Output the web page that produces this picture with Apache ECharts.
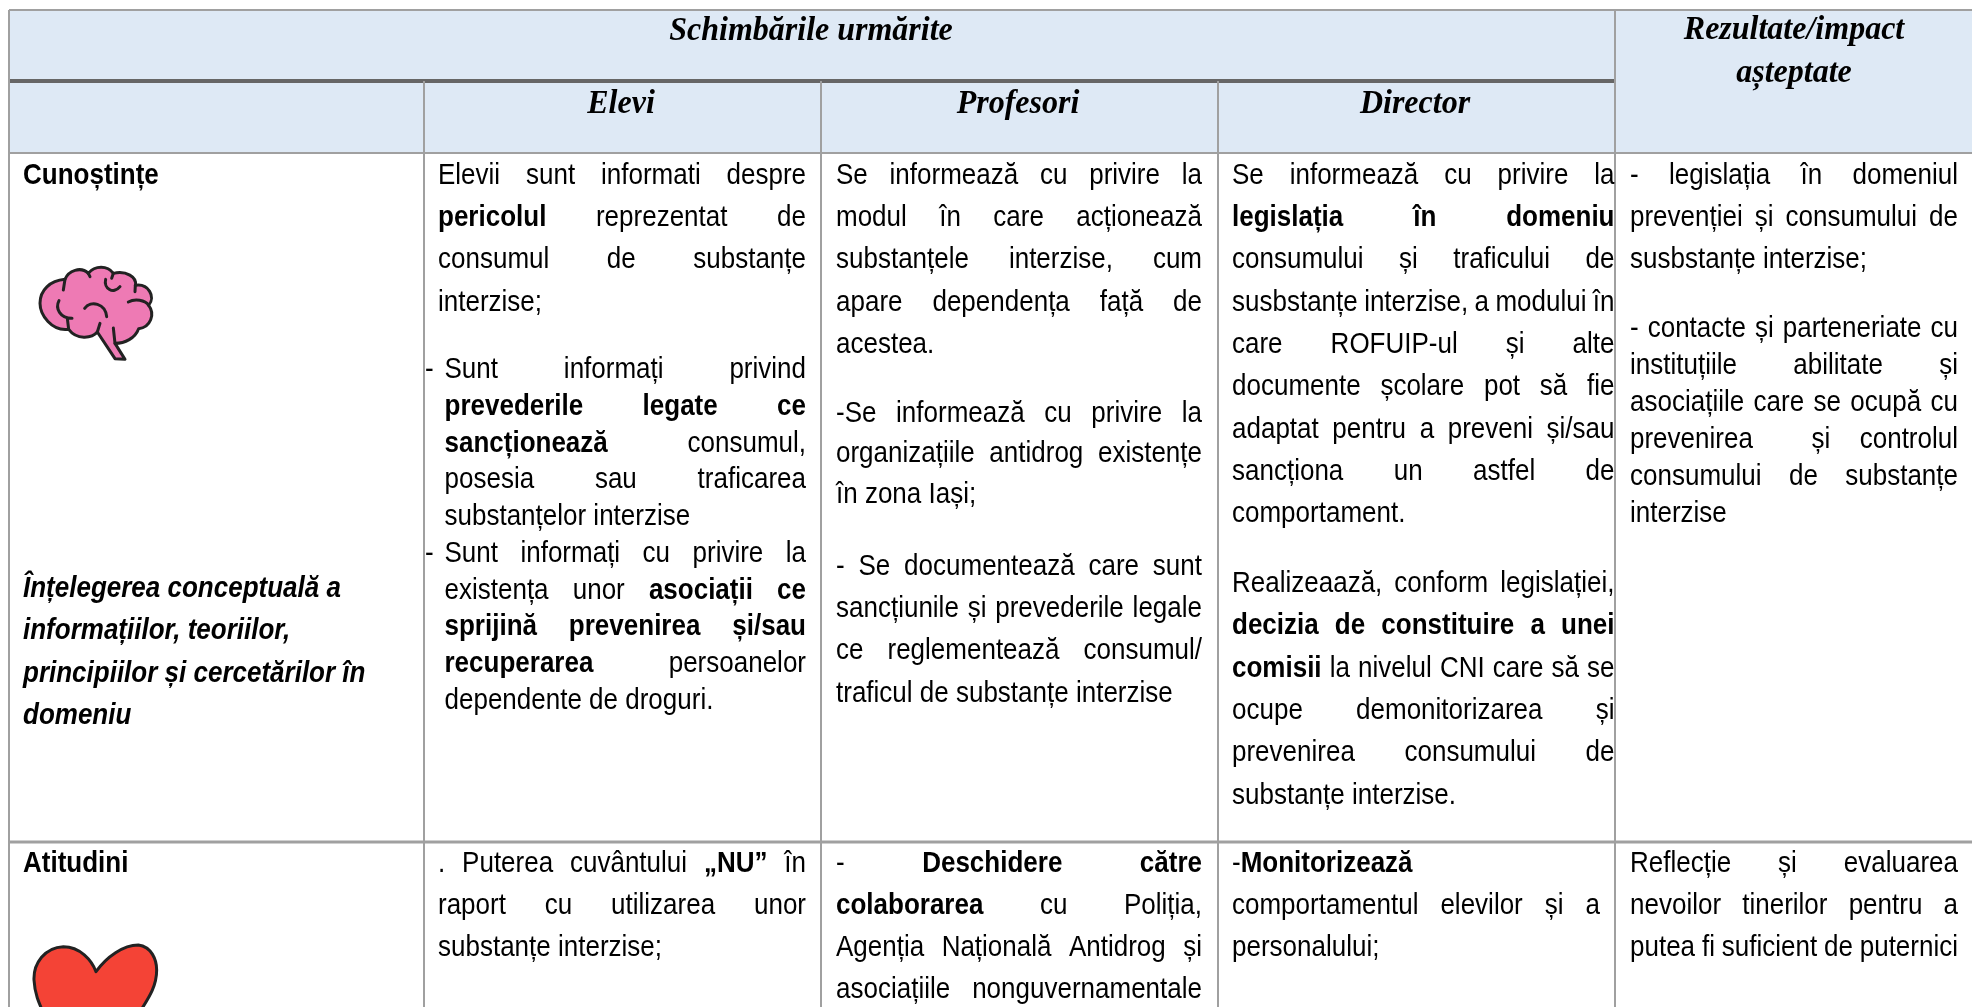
<!DOCTYPE html>
<html lang="ro">
<head>
<meta charset="utf-8">
<title>Schimbările urmărite</title>
<style>html,body{margin:0;padding:0;background:#fff;overflow:hidden}#c{width:1972px;height:1007px}</style>
<script src="https://cdn.jsdelivr.net/npm/echarts@6/dist/echarts.min.js"></script>
</head>
<body>
<div id="c"></div>
<script>
// ---- table text (a leading * marks a bold word, a leading < marks a line that is not justified) ----
const headTop = "Schimbările urmărite";
const headCols = ["Elevi", "Profesori", "Director"];
const headResult = ["Rezultate/impact", "așteptate"];

const rowName1 = "Cunoștințe";
const rowDesc1 = ["Înțelegerea conceptuală a", "informațiilor, teoriilor,", "principiilor și cercetărilor în", "domeniu"];
const rowName2 = "Atitudini";

const elevi1a = ["Elevii sunt informati despre", "*pericolul reprezentat de", "consumul de substanțe", "<interzise;"];
const elevi1b = ["Sunt informați privind", "*prevederile *legate *ce", "*sancționează consumul,", "posesia sau traficarea", "<substanțelor interzise",
                 "Sunt informați cu privire la", "existența unor *asociații *ce", "*sprijină *prevenirea *și/sau", "*recuperarea persoanelor", "<dependente de droguri."];
const profesori1 = ["Se informează cu privire la", "modul în care acționează", "substanțele interzise, cum", "apare dependența față de", "<acestea.",
                    "-Se informează cu privire la", "organizațiile antidrog existențe", "<în zona Iași;",
                    "- Se documentează care sunt", "sancțiunile și prevederile legale", "ce reglementează consumul/", "<traficul de substanțe interzise"];
const director1 = ["Se informează cu privire la", "*legislația *în *domeniu", "consumului și traficului de", "susbstanțe interzise, a modului în", "care ROFUIP-ul și alte",
                   "documente școlare pot să fie", "adaptat pentru a preveni și/sau", "sancționa un astfel de", "<comportament.",
                   "Realizeaază, conform legislației,", "*decizia *de *constituire *a *unei", "*comisii la nivelul CNI care să se", "ocupe demonitorizarea și", "prevenirea consumului de", "<substanțe interzise."];
const rezultate1 = ["- legislația în domeniul", "prevenției și consumului de", "<susbstanțe interzise;",
                    "- contacte și parteneriate cu", "instituțiile abilitate și", "asociațiile care se ocupă cu", "prevenirea  și controlul", "consumului de substanțe", "<interzise"];
const elevi2 = [". Puterea cuvântului *„NU” în", "raport cu utilizarea unor", "<substanțe interzise;"];
const profesori2 = ["- *Deschidere *către", "*colaborarea cu Poliția,", "Agenția Națională Antidrog și", "asociațiile nonguvernamentale"];
const director2 = ["<*Monitorizează", "comportamentul elevilor și a", "<personalului;"];
const rezultate2 = ["Reflecție și evaluarea", "nevoilor tinerilor pentru a", "putea fi suficient de puternici"];

// ---- page layout of the table, separate from its text ----
const W = 1972, H = 1007;
const colX = [9, 424, 821, 1218, 1615];
const rowY = [10, 81, 153, 842];
const HEAD_BG = "#DEE9F5", RULE = "#A0A0A0", DARK = "#666666";
const SANS = '"Liberation Sans"', SERIF = '"Liberation Serif"';
const FS = 26, HFS = 32, BODY_STRETCH = 1.17, NUDGE = 2.5;

const ctx = document.createElement("canvas").getContext("2d");
function width(t, bold, italic, size, fam) {
  ctx.font = (italic ? "italic " : "") + (bold ? "bold " : "") + size + "px " + fam;
  return ctx.measureText(t).width;
}
const words = [];
function putWord(x, y, t, bold, italic, size, fam, stretch) { if (t) words.push({ x, y, t, bold, italic, size, fam, stretch: stretch || BODY_STRETCH }); }

function putLine(line, left, right, y) {
  let flush = false;
  if (line[0] === "<") { flush = true; line = line.slice(1); }
  const parts = line.split(" ").map(p => p[0] === "*" ? { t: p.slice(1), b: true } : { t: p, b: false });
  const sizes = parts.map(p => width(p.t, p.b, false, FS, SANS));
  const total = sizes.reduce((a, b) => a + b, 0);
  const gap = flush || parts.length < 2 ? width(" ", false, false, FS, SANS) : (right - left - total) / (parts.length - 1);
  let x = left;
  parts.forEach((p, i) => { putWord(x, y, p.t, p.b, false, FS, SANS); x += sizes[i] + gap; });
}
function putCell(lines, left, right, ys) { lines.forEach((l, i) => putLine(l, left, right, ys[i])); }
function centered(t, cx, y) {
  const w = width(t, true, true, HFS, SERIF);
  putWord(cx - w / 2, y, t, true, true, HFS, SERIF, 1.02);
}

centered(headTop, 811, 29);
centered(headCols[0], 621, 102);
centered(headCols[1], 1018, 102);
centered(headCols[2], 1415, 102);
centered(headResult[0], 1794, 28);
centered(headResult[1], 1794, 71);

putWord(23, 173, rowName1, true, false, FS, SANS);
rowDesc1.forEach((l, i) => putWord(23, [586, 628.5, 671, 713][i], l, true, true, FS, SANS));
putWord(23, 861, rowName2, true, false, FS, SANS);

putCell(elevi1a, 438, 806, [173, 215, 257, 300]);
putWord(425, 367, "-", false, false, FS, SANS);
putWord(425, 551, "-", false, false, FS, SANS);
putCell(elevi1b, 444.5, 806, [367, 404, 440.7, 477.5, 514, 551, 588, 624.6, 661.3, 698]);
putCell(profesori1, 836, 1202, [173, 215, 257, 300, 342.5, 411, 451.5, 492, 564, 606, 648.5, 691]);
putCell(director1, 1232, 1614.5, [173, 215.3, 257.6, 300, 342, 384.5, 427, 469, 511.6, 581, 623.5, 665.8, 708, 750.4, 792.7]);
putCell(rezultate1, 1630, 1958, [173, 215, 257, 326, 363, 400, 437, 474, 511]);
putCell(elevi2, 438, 806, [861, 903, 945]);
putCell(profesori2, 836, 1202, [861, 903, 945, 987.5]);
putWord(1232, 861, "-", false, false, FS, SANS);
putCell(director2, 1232, 1600, [861, 903, 945]);
words.filter(w => w.t === "Monitorizează").forEach(w => { w.x += width("-", false, false, FS, SANS); });
putCell(rezultate2, 1630, 1958, [861, 903, 945]);

const fills = [[colX[0], rowY[0], W, rowY[2]]];
const rules = [
  [colX[0], rowY[0], W, rowY[0], RULE, 2],
  [colX[0], rowY[1], colX[4], rowY[1], DARK, 4],
  [colX[0], rowY[2], W, rowY[2], RULE, 2],
  [colX[0], rowY[3], W, rowY[3], RULE, 3],
  [colX[0], rowY[0], colX[0], H, RULE, 2],
  [colX[1], rowY[1], colX[1], H, RULE, 2],
  [colX[2], rowY[1], colX[2], H, RULE, 2],
  [colX[3], rowY[1], colX[3], H, RULE, 2],
  [colX[4], rowY[0], colX[4], H, RULE, 2]
];

// icons: traced outlines, in a local space three times the page scale
const brainBody = "M285 356 L232 276 C215 296 170 300 146 268 C95 275 60 225 60 190 C60 150 90 122 135 118 C145 92 182 78 205 100 C225 76 262 76 280 100 C318 90 352 112 346 136 C385 130 408 170 386 196 C406 222 392 262 356 266 C345 295 315 310 285 310 L315 358 Z";
const brainFolds = "M135 118 L130 150 M117 182 C105 205 120 235 156 235 M194 205 C212 180 256 190 260 230 M257 118 C250 145 280 165 300 140 M325 186 C345 175 375 180 386 196 M205 100 L210 110 M280 100 L275 115 M346 136 L345 155 M142 235 L146 268 M232 276 L240 250 M285 310 L280 264";
const heartBody = "M228 125 C215 90 180 50 130 50 C75 52 40 100 42 150 C44 190 55 215 75 260 C110 320 170 370 225 400 C280 350 335 290 360 245 C385 205 410 170 410 120 C410 90 395 50 355 45 C310 45 260 80 228 125 Z";
const icons = [
  { x: 20, y: 240, d: brainBody, fill: "#EE7AB4", w: 9 },
  { x: 20, y: 240, d: brainFolds, fill: "none", w: 9 },
  { x: 20, y: 930, d: heartBody, fill: "#F44336", w: 9 }
];

const ICON_SCALE = 1 / 3;
const chart = echarts.init(document.getElementById("c"));
chart.setOption({
  animation: false,
  backgroundColor: "#fff",
  grid: { left: 0, right: 0, top: 0, bottom: 0 },
  xAxis: { type: "value", min: 0, max: W, show: false },
  yAxis: { type: "value", min: 0, max: H, inverse: true, show: false },
  tooltip: { show: false },
  series: [
    {
      type: "custom", coordinateSystem: "cartesian2d", silent: true, z: 1,
      data: fills.map(f => [f[0], f[1]]),
      renderItem(p, api) {
        const f = fills[p.dataIndex], a = api.coord([f[0], f[1]]), b = api.coord([f[2], f[3]]);
        return { type: "rect", shape: { x: a[0], y: a[1], width: b[0] - a[0], height: b[1] - a[1] }, style: { fill: HEAD_BG } };
      }
    },
    {
      type: "custom", coordinateSystem: "cartesian2d", silent: true, z: 2,
      data: rules.map(r => [r[0], r[1]]),
      renderItem(p, api) {
        const r = rules[p.dataIndex], a = api.coord([r[0], r[1]]), b = api.coord([r[2], r[3]]);
        return { type: "line", shape: { x1: a[0], y1: a[1], x2: b[0], y2: b[1] }, style: { stroke: r[4], lineWidth: r[5] } };
      }
    },
    {
      type: "custom", coordinateSystem: "cartesian2d", silent: true, z: 3,
      data: icons.map(i => [i.x, i.y]),
      renderItem(p, api) {
        const i = icons[p.dataIndex], a = api.coord([i.x, i.y]);
        return { type: "path", x: a[0], y: a[1], scaleX: ICON_SCALE, scaleY: ICON_SCALE,
          shape: { pathData: i.d }, style: { fill: i.fill, stroke: "#222222", lineWidth: i.w, lineJoin: "round", lineCap: "round" } };
      }
    },
    {
      type: "custom", coordinateSystem: "cartesian2d", silent: true, z: 4,
      data: words.map(w => [w.x, w.y + NUDGE]),
      renderItem(p, api) {
        const w = words[p.dataIndex], a = api.coord([w.x, w.y + NUDGE]);
        return { type: "text", x: a[0], y: a[1], scaleY: w.stretch,
          style: { text: w.t, fill: "#000", fontFamily: w.fam, fontSize: w.size,
            fontWeight: w.bold ? "bold" : "normal", fontStyle: w.italic ? "italic" : "normal",
            align: "left", verticalAlign: "middle" } };
      }
    }
  ]
});
</script>
</body>
</html>
